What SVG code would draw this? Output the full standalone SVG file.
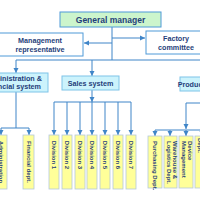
<svg xmlns="http://www.w3.org/2000/svg" width="200" height="200" viewBox="0 0 200 200">
<defs>
<marker id="ah" markerWidth="6" markerHeight="6" refX="5" refY="3" orient="auto" markerUnits="userSpaceOnUse"><path d="M0,0.5 L5,3 L0,5.5 z" fill="#3f85c8"/></marker>
<style>
.t{font-family:"Liberation Sans",Arial,sans-serif;font-weight:bold;fill:#1f3e7a;text-anchor:middle}
.s{text-anchor:start}
.ln{stroke:#3f85c8;stroke-width:1;fill:none}
.ar{stroke:#3f85c8;stroke-width:1;fill:none;marker-end:url(#ah)}
.gm{fill:#ccf5cc;stroke:#4f9ad8;stroke-width:1}
.wb{fill:#fff;stroke:#4f9ad8;stroke-width:1}
.cy{fill:#ccf3fc;stroke:#7fc4e8;stroke-width:1}
.yb{fill:#ffff99;stroke:#b4c8dc;stroke-width:0.8}
</style>
</defs>
<rect width="200" height="200" fill="#fff"/>
<g id="connectors">
<path class="ln" d="M112,27 V60"/>
<path class="ar" d="M112,43 H84"/>
<path class="ar" d="M112,38 H145"/>
<path class="ln" d="M16,60 H210"/>
<path class="ar" d="M16,60 V73"/>
<path class="ar" d="M92,60 V76"/>
<path class="ar" d="M208,60 V77"/>
<path class="ln" d="M16,92 V128"/>
<path class="ln" d="M1,128 H29"/>
<path class="ar" d="M1,128 V135"/>
<path class="ar" d="M29,128 V135"/>
<path class="ar" d="M92,90 V102"/>
<path class="ln" d="M54,102 H131"/>
<path class="ar" d="M54,102 V135"/>
<path class="ar" d="M67,102 V135"/>
<path class="ar" d="M80,102 V135"/>
<path class="ar" d="M92,102 V135"/>
<path class="ar" d="M105,102 V135"/>
<path class="ar" d="M118,102 V135"/>
<path class="ar" d="M131,102 V135"/>
<path class="ln" d="M210,103 H186"/>
<path class="ar" d="M186,103 V129"/>
<path class="ln" d="M155,130 H210"/>
<path class="ar" d="M155,130 V136"/>
<path class="ar" d="M170,130 V136"/>
<path class="ar" d="M186,130 V136"/>
<path class="ar" d="M202,130 V136"/>
</g>
<g id="general-manager"><rect class="gm" x="60" y="12" width="101" height="15"/><text class="t" x="110.5" y="22.5" font-size="8.5">General manager</text></g>
<g id="management-rep"><rect class="wb" x="-1" y="33" width="84" height="23"/><text class="t" x="40" y="43" font-size="7.2">Management</text><text class="t" x="40" y="52" font-size="7.2">representative</text></g>
<g id="factory-committee"><rect class="wb" x="146" y="31" width="60" height="23"/><text class="t" x="176" y="41" font-size="7.2">Factory</text><text class="t" x="176" y="50" font-size="7.2">committee</text></g>
<g id="admin-system"><rect class="cy" x="-20" y="73" width="68" height="19"/><text class="t" x="13" y="81" font-size="7.2">Administration &amp;</text><text class="t" x="13" y="89" font-size="7.2">financial system</text></g>
<g id="sales-system"><rect class="cy" x="62" y="76" width="57" height="14"/><text class="t" x="90.5" y="85.5" font-size="7.2">Sales system</text></g>
<g id="production-system"><rect class="cy" x="180" y="77" width="60" height="14"/><text class="t" x="210" y="86.5" font-size="7.2">Production system</text></g>
<g id="administration"><rect class="yb" x="-5" y="135" width="12" height="54"/><text class="t" transform="translate(-1,162) rotate(90)" font-size="6">Administration</text></g>
<g id="financial-dept"><rect class="yb" x="23" y="135" width="11" height="54"/><text class="t" transform="translate(26.5,162) rotate(90)" font-size="6">Financial dept.</text></g>
<g id="div1"><rect class="yb" x="49" y="135" width="10" height="54"/><text class="t" transform="translate(52,155) rotate(90)" font-size="6">Division 1</text></g>
<g id="div2"><rect class="yb" x="62" y="135" width="10" height="54"/><text class="t" transform="translate(65,155) rotate(90)" font-size="6">Division 2</text></g>
<g id="div3"><rect class="yb" x="75" y="135" width="10" height="54"/><text class="t" transform="translate(78,155) rotate(90)" font-size="6">Division 3</text></g>
<g id="div4"><rect class="yb" x="87" y="135" width="10" height="54"/><text class="t" transform="translate(90,155) rotate(90)" font-size="6">Division 4</text></g>
<g id="div5"><rect class="yb" x="100" y="135" width="10" height="54"/><text class="t" transform="translate(103,155) rotate(90)" font-size="6">Division 5</text></g>
<g id="div6"><rect class="yb" x="113" y="135" width="10" height="54"/><text class="t" transform="translate(116,155) rotate(90)" font-size="6">Division 6</text></g>
<g id="div7"><rect class="yb" x="126" y="135" width="10" height="54"/><text class="t" transform="translate(129,155) rotate(90)" font-size="6">Division 7</text></g>
<g id="purchasing"><rect class="yb" x="148" y="136" width="14" height="52"/><text class="t s" transform="translate(153,141) rotate(90)" font-size="6">Purchasing Dept.</text></g>
<g id="warehouse"><rect class="yb" x="164" y="136" width="13" height="52"/><text class="t s" transform="translate(172.5,141) rotate(90)" font-size="6">Warehouse &amp;</text><text class="t s" transform="translate(166.5,141) rotate(90)" font-size="6">Logistics Dept.</text></g>
<g id="device"><rect class="yb" x="179" y="136" width="14" height="52"/><text class="t s" transform="translate(188,141) rotate(90)" font-size="6">Device</text><text class="t s" transform="translate(182,141) rotate(90)" font-size="6">Management</text></g>
<g id="dept"><rect class="yb" x="195" y="136" width="14" height="52"/><text class="t s" transform="translate(198,138) rotate(90)" font-size="6">Dept.</text></g>
</svg>
